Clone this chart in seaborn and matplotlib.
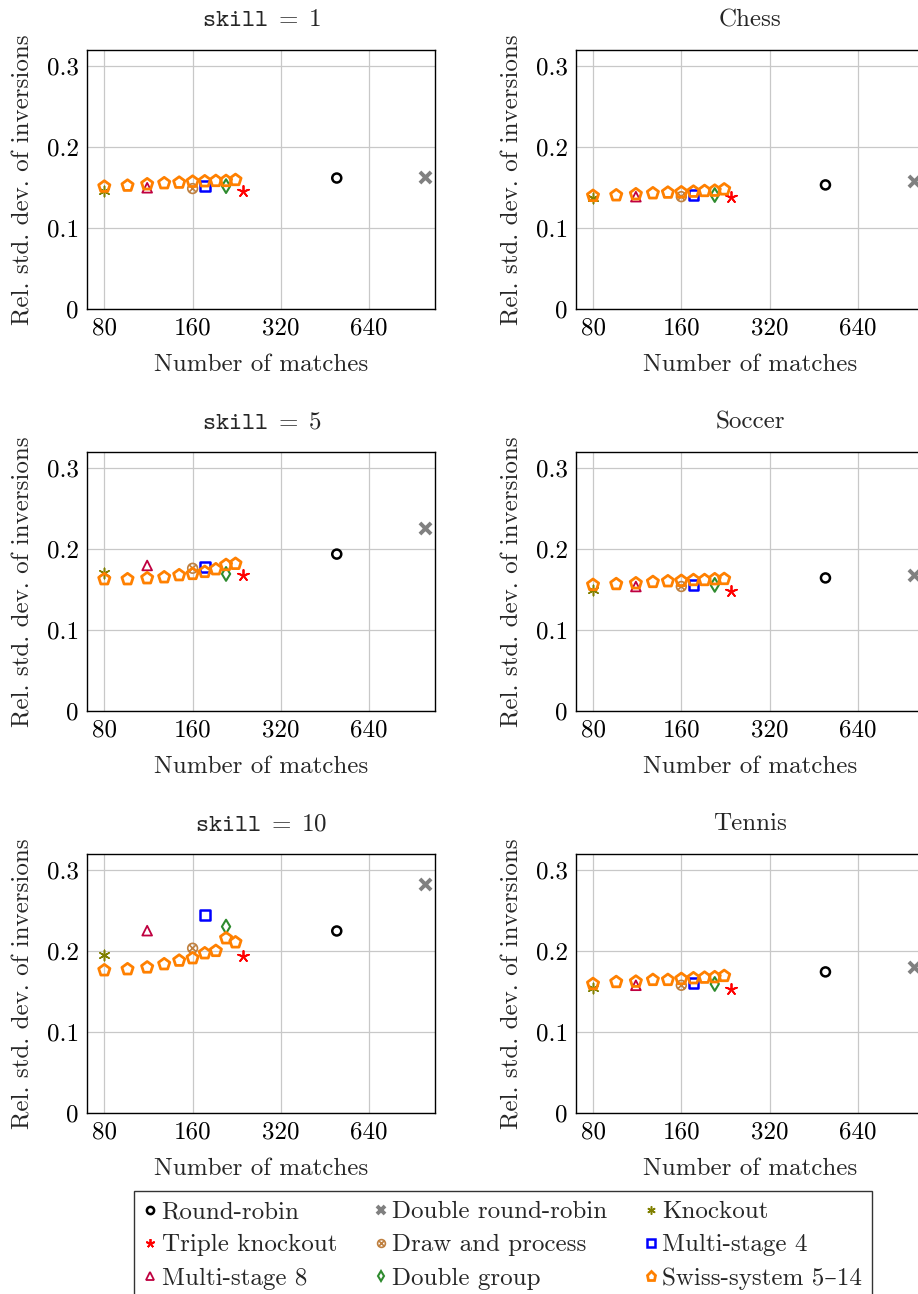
import numpy as np
import pandas as pd
import matplotlib.pyplot as plt
import seaborn as sns
from matplotlib.path import Path
from matplotlib.lines import Line2D

# Data
formats = ['Round-robin', 'Double round-robin', 'Knockout', 'Triple knockout',
           'Draw and process', 'Multi-stage 4', 'Multi-stage 8', 'Double group']
format_matches = [496, 992, 80, 237, 160, 176, 112, 208]
swiss_label = 'Swiss-system 5–14'
swiss_matches = [80, 96, 112, 128, 144, 160, 176, 192, 208, 224]

panel_titles = [r'$\mathtt{skill}\;=\;1$', 'Chess',
                r'$\mathtt{skill}\;=\;5$', 'Soccer',
                r'$\mathtt{skill}\;=\;10$', 'Tennis']

# one value per format, same order as `formats`
skill1_y = [0.162, 0.163, 0.146, 0.146, 0.149, 0.152, 0.150, 0.152]
chess_y = [0.1535, 0.158, 0.137, 0.138, 0.139, 0.141, 0.139, 0.141]
skill5_y = [0.194, 0.226, 0.171, 0.168, 0.1765, 0.178, 0.180, 0.1695]
soccer_y = [0.1646, 0.168, 0.150, 0.149, 0.154, 0.156, 0.154, 0.156]
skill10_y = [0.225, 0.283, 0.1954, 0.194, 0.2037, 0.2448, 0.2254, 0.2304]
tennis_y = [0.1745, 0.1807, 0.155, 0.1535, 0.158, 0.1605, 0.158, 0.1596]

swiss_skill1 = [0.1514, 0.1526, 0.1543, 0.1556, 0.1563, 0.1575, 0.158, 0.1584, 0.1584, 0.1596]
swiss_chess = [0.140, 0.1407, 0.142, 0.1432, 0.144, 0.1444, 0.1452, 0.146, 0.1464, 0.148]
swiss_skill5 = [0.163, 0.163, 0.1642, 0.1654, 0.168, 0.1695, 0.172, 0.1753, 0.1806, 0.182]
swiss_soccer = [0.156, 0.157, 0.158, 0.1596, 0.1605, 0.161, 0.162, 0.162, 0.163, 0.1633]
swiss_skill10 = [0.1765, 0.1778, 0.180, 0.184, 0.1884, 0.1914, 0.1975, 0.2004, 0.216, 0.211]
swiss_tennis = [0.1596, 0.162, 0.1625, 0.1646, 0.1646, 0.1658, 0.1667, 0.1674, 0.168, 0.1695]

panel_y = [skill1_y, chess_y, skill5_y, soccer_y, skill10_y, tennis_y]
panel_swiss = [swiss_skill1, swiss_chess, swiss_skill5, swiss_soccer, swiss_skill10, swiss_tennis]

x_ticks = [80, 160, 320, 640]
y_ticks = [0, 0.1, 0.2, 0.3]

# circle with a cross inside (pgfplots "otimes")
d = 0.7071
otimes = Path.make_compound_path(
    Path.unit_circle(),
    Path([[-d, -d], [d, d], [-d, d], [d, -d]],
         [Path.MOVETO, Path.LINETO, Path.MOVETO, Path.LINETO]))

# marker, colour, size (pt), edge width, hollow?
styles = {
    'Round-robin': ('o', 'black', 6.5, 1.8, True),
    'Double round-robin': ('x', '#808080', 8, 2.8, False),
    'Knockout': ((6, 2, 0), '#808000', 7.5, 1.1, False),
    'Triple knockout': ((5, 2, 0), 'red', 8, 1.3, False),
    'Draw and process': (otimes, '#bf8040', 7, 1.2, True),
    'Multi-stage 4': ('s', 'blue', 7, 1.8, True),
    'Multi-stage 8': ('^', '#bf0040', 7, 1.3, True),
    'Double group': ('d', '#2e8b2e', 7, 1.5, True),
    swiss_label: ('p', '#ff8000', 8.5, 2.0, True),
}


def draw(ax, xs, ys, name, z):
    m, c, ms, lw, hollow = styles[name]
    if hollow:
        sns.scatterplot(x=xs, y=ys, marker=m, s=ms ** 2, color=c,
                        facecolor='none', edgecolor=c, linewidth=lw, ax=ax, zorder=z)
    else:
        sns.scatterplot(x=xs, y=ys, marker=m, s=ms ** 2, color=c,
                        linewidth=lw, ax=ax, zorder=z)


sns.set_style('whitegrid', {'axes.edgecolor': 'black', 'grid.color': '#c8c8c8',
                            'xtick.direction': 'in', 'ytick.direction': 'in'})
plt.rcParams['font.family'] = ['cmr10', 'DejaVu Serif']
plt.rcParams['mathtext.fontset'] = 'cm'
plt.rcParams['axes.formatter.use_mathtext'] = True
plt.rcParams['axes.unicode_minus'] = False

W, H = 918, 1294
fig = plt.figure(figsize=(W / 100, H / 100), dpi=100)

lefts = [87.3, 576]
bottoms = [309.3, 711.3, 1113.3]
ax_w, ax_h = 348, 259.3

for i in range(6):
    row, col = divmod(i, 2)
    ax = fig.add_axes([lefts[col] / W, 1 - bottoms[row] / H, ax_w / W, ax_h / H])
    ax.set_xscale('log', base=2)

    for name, xm, ym in zip(formats, format_matches, panel_y[i]):
        draw(ax, [xm], [ym], name, 3)
    draw(ax, swiss_matches, panel_swiss[i], swiss_label, 4)

    ax.set_xlim(70, 1075)
    ax.set_ylim(0, 0.32)
    ax.set_xticks(x_ticks)
    ax.set_xticklabels([str(t) for t in x_ticks])
    ax.xaxis.set_minor_locator(plt.NullLocator())
    ax.set_yticks(y_ticks)
    ax.set_yticklabels(['0', '0.1', '0.2', '0.3'])
    ax.tick_params(labelsize=18, length=3, width=0.8, pad=6, colors='black')
    ax.grid(True, color='#c8c8c8', linewidth=0.9)
    for sp in ax.spines.values():
        sp.set_linewidth(1.0)
        sp.set_color('black')
    ax.set_title(panel_titles[i], fontsize=18, pad=17)
    ax.set_xlabel('Number of matches', fontsize=18, labelpad=10)
    ax.set_ylabel('Rel. std. dev. of inversions', fontsize=18, labelpad=9)

# legend, filled column-wise so the rows read like the reference
order = ['Round-robin', 'Triple knockout', 'Multi-stage 8',
         'Double round-robin', 'Draw and process', 'Double group',
         'Knockout', 'Multi-stage 4', swiss_label]
handles = []
for name in order:
    m, c, ms, lw, hollow = styles[name]
    handles.append(Line2D([], [], linestyle='', marker=m, color=c,
                          markerfacecolor='none' if hollow else c,
                          markeredgecolor=c, markersize=ms * 0.8, markeredgewidth=lw))
leg = fig.legend(handles, order, loc='upper center', ncol=3,
                 bbox_to_anchor=(503 / W, 1 - 1191 / H), fontsize=18,
                 frameon=True, fancybox=False, edgecolor='black',
                 handlelength=0.5, handletextpad=0.2, columnspacing=1.5,
                 labelspacing=0.42, borderpad=0.4, borderaxespad=0)
leg.get_frame().set_linewidth(1.0)

plt.savefig('out.png', dpi=100)
